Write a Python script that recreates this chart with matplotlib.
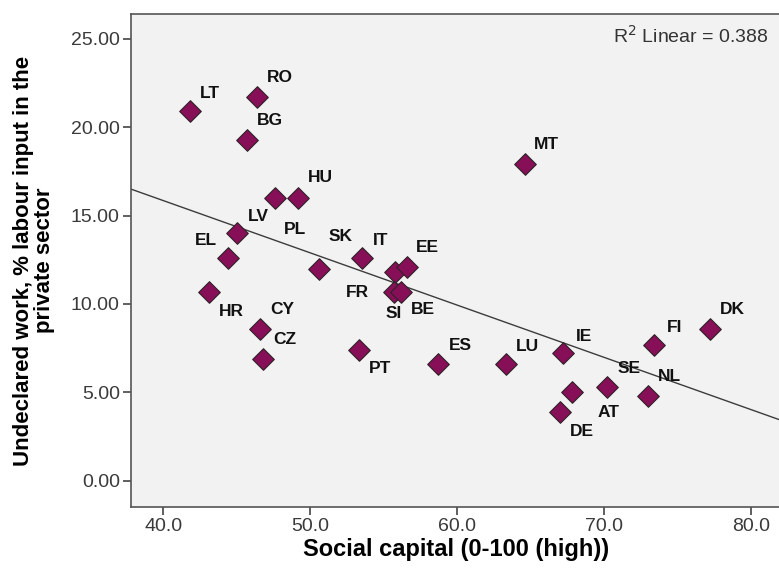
import numpy as np
import matplotlib
matplotlib.use("Agg")
import matplotlib.pyplot as plt

plt.rcParams['font.family'] = ['Liberation Sans', 'DejaVu Sans']

countries = ["LT", "RO", "BG", "PL", "HU", "LV", "EL", "SK", "IT", "FR", "EE",
             "SI", "BE", "HR", "CY", "CZ", "PT", "ES", "MT", "LU", "IE", "FI",
             "DK", "SE", "AT", "NL", "DE"]
social_capital = [41.8, 46.4, 45.7, 47.6, 49.2, 45.0, 44.4, 50.6, 53.5, 55.8, 56.6,
                  55.7, 56.2, 43.1, 46.6, 46.8, 53.3, 58.7, 64.6, 63.3, 67.2, 73.4,
                  77.2, 70.2, 67.8, 73.0, 67.0]
undeclared_work = [20.9, 21.7, 19.3, 16.0, 16.0, 14.0, 12.6, 12.0, 12.6, 11.8, 12.1,
                   10.7, 10.7, 10.7, 8.6, 6.9, 7.4, 6.6, 17.9, 6.6, 7.2, 7.7,
                   8.6, 5.3, 5.0, 4.8, 3.9]

# label offsets in pixels (dx, dy) relative to each marker
label_offsets = [(20, 18), (23, 20), (23, 19), (20, -32), (22, 20), (22, 17), (-22, 18),
                 (22, 32), (19, 18), (-38, -20), (20, 19), (0, -22), (22, -18),
                 (23, -20), (22, 19), (22, 19), (21, -19), (22, 19), (22, 20),
                 (22, 18), (21, 17), (20, 17), (22, 19), (22, 19), (37, -20),
                 (21, 19), (22, -20)]

x = np.array(social_capital)
y = np.array(undeclared_work)

fig = plt.figure(figsize=(7.79, 5.74), dpi=100)
ax = fig.add_axes([0.168, 0.1167, 0.835, 0.859])
ax.set_facecolor("#f2f2f2")

ax.set_xlim(37.8, 82.05)
ax.set_ylim(-1.49, 26.41)

slope, intercept = np.polyfit(x, y, 1)
xl = np.array(ax.get_xlim())
ax.plot(xl, intercept + slope * xl, color="#3c3c3c", lw=1.0, zorder=2)

ax.scatter(x, y, marker="D", s=121, color="#870f57", edgecolors="#2e2228",
           linewidths=0.8, zorder=3)

for name, px, py, (dx, dy) in zip(countries, x, y, label_offsets):
    ax.annotate(name, (px, py), xytext=(dx, dy), textcoords="offset pixels",
                ha="center", va="center", fontsize=12.5, fontweight="bold",
                color="#111111", zorder=4)

ax.text(0.98, 0.955, r"R$^2$ Linear = 0.388", transform=ax.transAxes,
        ha="right", va="center", fontsize=14, color="#333333")

ax.set_xticks([40, 50, 60, 70, 80])
ax.set_xticklabels(["40.0", "50.0", "60.0", "70.0", "80.0"])
ax.set_yticks([0, 5, 10, 15, 20, 25])
ax.set_yticklabels(["0.00", "5.00", "10.00", "15.00", "20.00", "25.00"])
ax.tick_params(direction="out", length=6, width=1.2, color="#444444",
               labelsize=14, labelcolor="#3a3a3a", pad=2)

for side in ["left", "bottom", "top"]:
    ax.spines[side].set_color("#555555")
    ax.spines[side].set_linewidth(1.2)
ax.spines["right"].set_visible(False)

ax.set_xlabel("Social capital (0-100 (high))", fontsize=17, fontweight="bold",
              labelpad=2)
ax.set_ylabel("Undeclared work, % labour input in the\nprivate sector",
              fontsize=16, fontweight="bold", linespacing=1.0)
ax.yaxis.set_label_coords(-0.116, 0.5)

fig.savefig("out.png", dpi=100)
plt.close()
